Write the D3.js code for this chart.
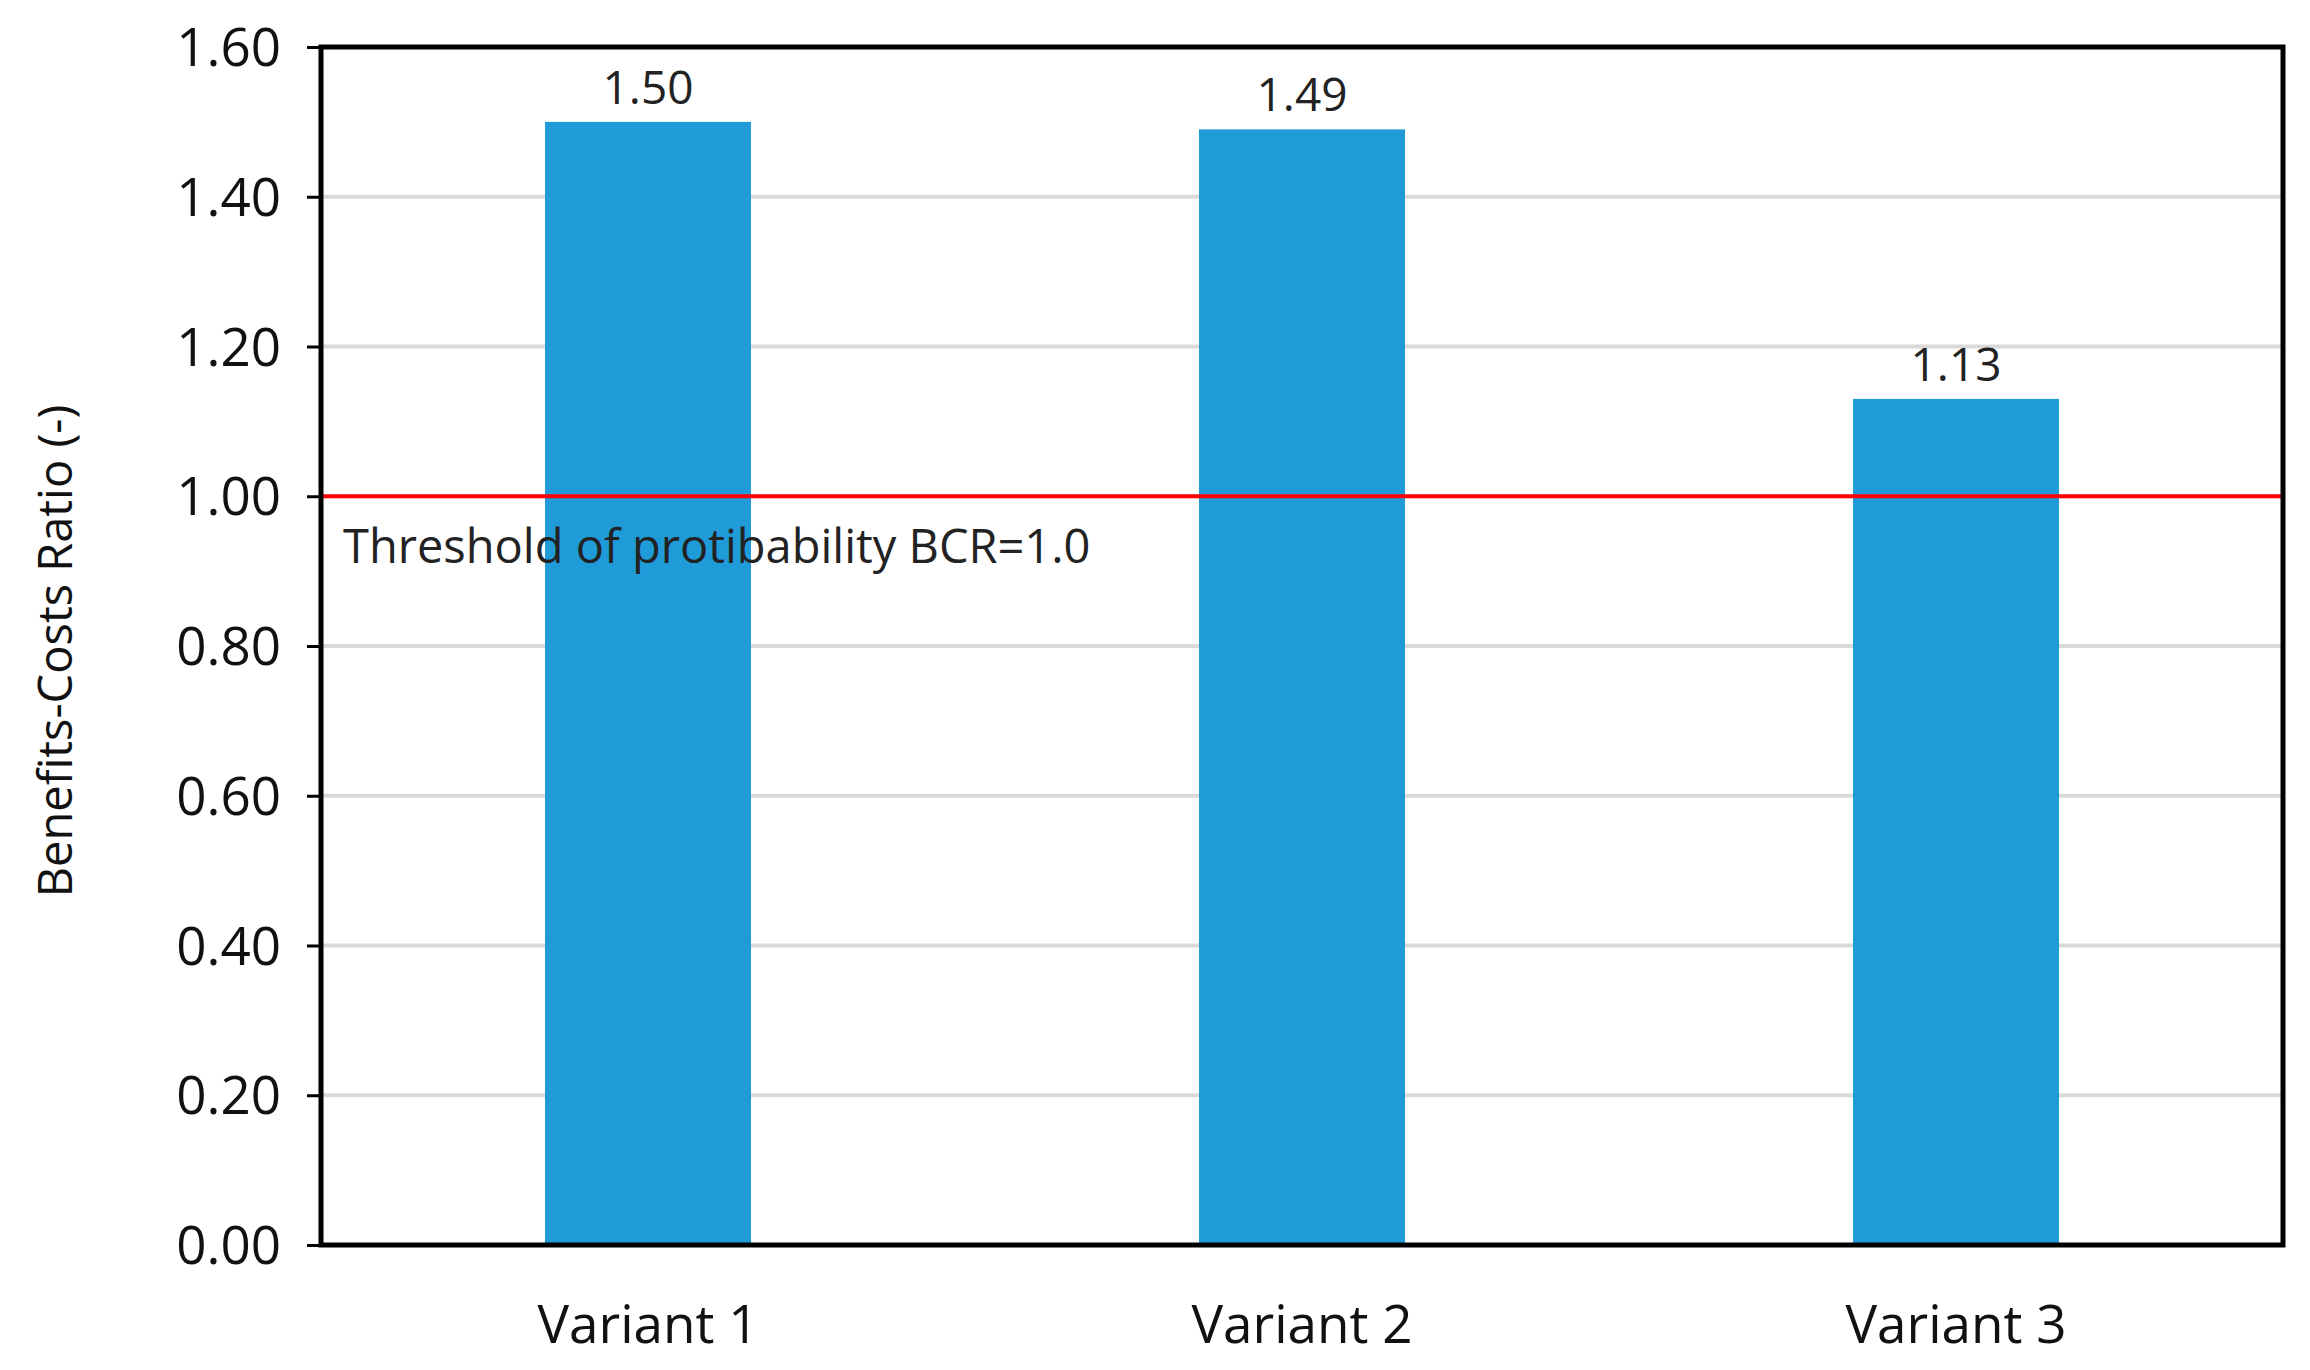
<!DOCTYPE html>
<html><head><meta charset="utf-8">
<script src="https://cdn.jsdelivr.net/npm/d3@7"></script>
<style>body{margin:0;background:#fff}text{font-family:"Open Sans",Calibri,Carlito,sans-serif}</style>
</head><body><svg id="c" width="2310" height="1370"></svg>
<script>
const categories=["Variant 1","Variant 2","Variant 3"];
const values=[1.50,1.49,1.13];
const yTicks=[0,0.2,0.4,0.6,0.8,1.0,1.2,1.4,1.6];
const threshold=1.0;
const thresholdLabel="Threshold of protibability BCR=1.0";
const yTitle="Benefits-Costs Ratio (-)";

const svg=d3.select("#c");
const L=321,R=2283,T=47,B=1245;
const x=d3.scaleBand().domain(categories).range([L,R]).paddingInner(0.685).paddingOuter(0.3425);
const y=d3.scaleLinear().domain([0,1.6]).range([B,T]);

svg.append("g").selectAll("line").data(yTicks.slice(1)).join("line")
 .attr("x1",L).attr("x2",R).attr("y1",d=>y(d)).attr("y2",d=>y(d))
 .attr("stroke","#d9d9d9").attr("stroke-width",4);

svg.append("g").selectAll("rect").data(values).join("rect")
 .attr("x",(d,i)=>x(categories[i])).attr("width",x.bandwidth())
 .attr("y",d=>y(d)).attr("height",d=>B-y(d)).attr("fill","#1f9bd7");

svg.append("g").selectAll("text").data(values).join("text")
 .attr("x",(d,i)=>x(categories[i])+x.bandwidth()/2).attr("y",d=>y(d)-18)
 .attr("text-anchor","middle").attr("font-size",46).attr("fill","#222").text(d=>d.toFixed(2));

svg.append("line").attr("x1",L).attr("x2",R).attr("y1",y(threshold)).attr("y2",y(threshold))
 .attr("stroke","#ff0000").attr("stroke-width",4);
svg.append("text").attr("x",343).attr("y",y(threshold)+67).attr("font-size",47).attr("fill","#222").text(thresholdLabel);

const ya=svg.append("g").attr("transform",`translate(${L},0)`)
 .call(d3.axisLeft(y).tickValues(yTicks).tickFormat(d3.format(".2f")).tickSize(14).tickSizeOuter(0));
ya.select(".domain").remove();
ya.selectAll("line").attr("stroke","#000").attr("stroke-width",3);
ya.selectAll("text").attr("font-size",53).attr("fill","#111").attr("x",-40).attr("dy","0.35em");

const xa=svg.append("g").attr("transform",`translate(0,${B})`)
 .call(d3.axisBottom(x).tickSize(0));
xa.select(".domain").remove();
xa.selectAll("text").attr("font-size",53).attr("fill","#111").attr("y",60).attr("dy","0.71em");

svg.append("rect").attr("x",L).attr("y",T).attr("width",R-L).attr("height",B-T)
 .attr("fill","none").attr("stroke","#000").attr("stroke-width",5);

svg.append("text").attr("transform",`translate(72,${(T+B)/2+5}) rotate(-90)`)
 .attr("text-anchor","middle").attr("font-size",47).attr("fill","#111").text(yTitle);
</script></body></html>
